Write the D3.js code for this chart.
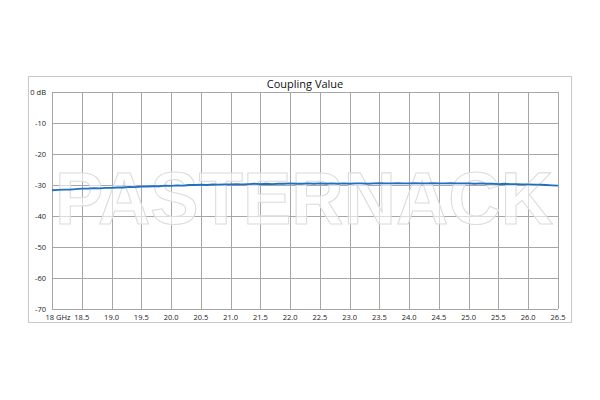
<!DOCTYPE html>
<html>
<head>
<meta charset="utf-8">
<style>
  body { margin: 0; padding: 0; background: #fff; font-family: "Open Sans", sans-serif; }
  .grid line { stroke: #a6a6a6; stroke-width: 1; }
  .tick-label { font-size: 7.5px; fill: #222; }
  .title { font-size: 11px; fill: #111; }
</style>
</head>
<body>
<div id="chart"></div>
<script src="https://d3js.org/d3.v7.min.js"></script>
<script>
  // frequency samples (GHz), 0.1 GHz apart
  var freqs = d3.range(18, 26.51, 0.1);

  // coupling (dB)
  var coupling = [
    -31.7, -31.6, -31.5, -31.5, -31.3, -31.2, -31.2, -31.0, -31.1, -30.9,
    -30.9, -30.8, -30.8, -30.6, -30.7, -30.5, -30.5, -30.4, -30.4, -30.2,
    -30.3, -30.1, -30.2, -30.0, -30.0, -29.9, -30.0, -29.8, -29.9, -29.8,
    -29.8, -29.7, -29.8, -29.7, -29.6, -29.7, -29.6, -29.7, -29.6, -29.6,
    -29.5, -29.6, -29.6, -29.5, -29.6, -29.5, -29.6, -29.5, -29.6, -29.5,
    -29.6, -29.5, -29.5, -29.6, -29.5, -29.4, -29.5, -29.5, -29.4, -29.5,
    -29.5, -29.4, -29.5, -29.5, -29.4, -29.5, -29.5, -29.4, -29.5, -29.5,
    -29.5, -29.6, -29.5, -29.6, -29.6, -29.7, -29.6, -29.7, -29.7, -29.8,
    -29.8, -29.9, -29.9, -30.0, -30.1, -30.2
  ];

  var xTicks = [18, 18.5, 19, 19.5, 20, 20.5, 21, 21.5, 22, 22.5, 23, 23.5, 24, 24.5, 25, 25.5, 26, 26.5];
  var yTicks = [0, -10, -20, -30, -40, -50, -60, -70];

  var width = 600, height = 400;
  var plot = { left: 52, right: 558, top: 92, bottom: 309 };

  var svg = d3.select("#chart").append("svg")
      .attr("width", width)
      .attr("height", height);

  // outer frame
  svg.append("rect")
      .attr("x", 28.5).attr("y", 76.5)
      .attr("width", 543).attr("height", 246)
      .attr("fill", "#fff")
      .attr("stroke", "#c8c8c8");

  var x = d3.scaleLinear().domain([18, 26.5]).range([plot.left, plot.right]);
  var y = d3.scaleLinear().domain([-70, 0]).range([plot.bottom, plot.top]);

  // grid
  var grid = svg.append("g").attr("class", "grid");
  grid.selectAll(".v").data(xTicks).enter().append("line")
      .attr("x1", d => Math.round(x(d)) + 0.5).attr("x2", d => Math.round(x(d)) + 0.5)
      .attr("y1", plot.top).attr("y2", plot.bottom);
  grid.selectAll(".h").data(yTicks).enter().append("line")
      .attr("y1", d => Math.round(y(d)) + 0.5).attr("y2", d => Math.round(y(d)) + 0.5)
      .attr("x1", plot.left).attr("x2", plot.right);

  // watermark
  svg.append("text")
      .attr("x", 55).attr("y", 224)
      .attr("textLength", 498)
      .attr("lengthAdjust", "spacingAndGlyphs")
      .style("font-family", "'Liberation Sans', Arial, sans-serif")
      .style("font-weight", "bold")
      .style("font-size", "75px")
      .attr("fill", "#fff")
      .attr("fill-opacity", 0.6)
      .attr("stroke", "#dcdcdc")
      .attr("stroke-width", 1.1)
      .text("PASTERNACK");

  // series
  var line = d3.line()
      .x((d, i) => x(freqs[i]))
      .y(d => y(d));

  svg.append("path")
      .datum(coupling)
      .attr("d", line)
      .attr("fill", "none")
      .attr("stroke", "#1f6fc5")
      .attr("stroke-width", 1.8);

  // tick labels
  svg.selectAll(".xl").data(xTicks).enter().append("text")
      .attr("class", "tick-label")
      .attr("x", d => d === 18 ? x(d) + 6 : x(d))
      .attr("y", 320)
      .attr("text-anchor", "middle")
      .text(d => d === 18 ? "18 GHz" : d3.format(".1f")(d));

  svg.selectAll(".yl").data(yTicks).enter().append("text")
      .attr("class", "tick-label")
      .attr("x", 46)
      .attr("y", d => y(d) + 3)
      .attr("text-anchor", "end")
      .text(d => d === 0 ? "0 dB" : d);

  svg.append("text")
      .attr("class", "title")
      .attr("x", (plot.left + plot.right) / 2)
      .attr("y", 88)
      .attr("text-anchor", "middle")
      .text("Coupling Value");
</script>
</body>
</html>
